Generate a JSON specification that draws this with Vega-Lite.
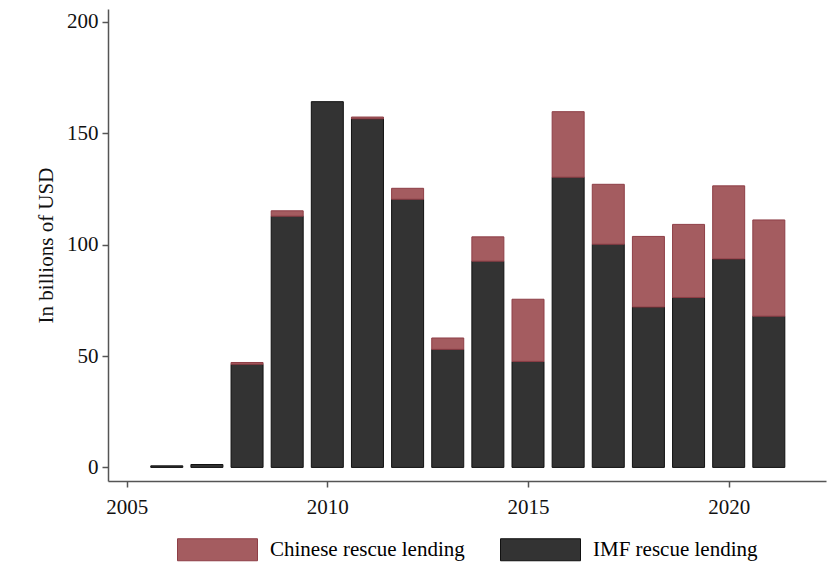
{
  "$schema": "https://vega.github.io/schema/vega-lite/v6.json",
  "width": 718,
  "height": 472,
  "autosize": {"type": "none"},
  "padding": {"left": 108, "top": 9, "right": 14, "bottom": 97},
  "background": "white",
  "config": {
    "font": "Liberation Serif",
    "view": {"stroke": null},
    "legend": {"layout": {"bottom": {"anchor": "middle"}}},
    "axis": {"grid": false, "domainColor": "#555555", "tickColor": "#555555", "labelColor": "#111111", "titleColor": "#111111", "labelFont": "Liberation Serif", "titleFont": "Liberation Serif"}
  },
  "data": {
    "values": [
      {"year": 2006, "series": "IMF rescue lending", "value": 0.7},
      {"year": 2007, "series": "IMF rescue lending", "value": 1.3},
      {"year": 2008, "series": "IMF rescue lending", "value": 46.3},
      {"year": 2008, "series": "Chinese rescue lending", "value": 0.8},
      {"year": 2009, "series": "IMF rescue lending", "value": 112.8},
      {"year": 2009, "series": "Chinese rescue lending", "value": 2.4},
      {"year": 2010, "series": "IMF rescue lending", "value": 164.2},
      {"year": 2011, "series": "IMF rescue lending", "value": 156.5},
      {"year": 2011, "series": "Chinese rescue lending", "value": 0.8},
      {"year": 2012, "series": "IMF rescue lending", "value": 120.4},
      {"year": 2012, "series": "Chinese rescue lending", "value": 4.9},
      {"year": 2013, "series": "IMF rescue lending", "value": 53.0},
      {"year": 2013, "series": "Chinese rescue lending", "value": 5.1},
      {"year": 2014, "series": "IMF rescue lending", "value": 92.6},
      {"year": 2014, "series": "Chinese rescue lending", "value": 10.9},
      {"year": 2015, "series": "IMF rescue lending", "value": 47.6},
      {"year": 2015, "series": "Chinese rescue lending", "value": 27.9},
      {"year": 2016, "series": "IMF rescue lending", "value": 130.3},
      {"year": 2016, "series": "Chinese rescue lending", "value": 29.4},
      {"year": 2017, "series": "IMF rescue lending", "value": 100.2},
      {"year": 2017, "series": "Chinese rescue lending", "value": 26.9},
      {"year": 2018, "series": "IMF rescue lending", "value": 72.0},
      {"year": 2018, "series": "Chinese rescue lending", "value": 31.7},
      {"year": 2019, "series": "IMF rescue lending", "value": 76.3},
      {"year": 2019, "series": "Chinese rescue lending", "value": 32.8},
      {"year": 2020, "series": "IMF rescue lending", "value": 93.6},
      {"year": 2020, "series": "Chinese rescue lending", "value": 32.8},
      {"year": 2021, "series": "IMF rescue lending", "value": 67.9},
      {"year": 2021, "series": "Chinese rescue lending", "value": 43.2}
    ]
  },
  "mark": {"type": "bar", "width": 32, "strokeWidth": 1},
  "encoding": {
    "x": {
      "field": "year", "type": "quantitative",
      "scale": {"domain": [2004.66, 2022.3], "nice": false, "zero": false},
      "axis": {"values": [2005, 2010, 2015, 2020], "format": "d", "title": null, "labelFontSize": 21, "tickSize": 6, "labelPadding": 9, "domainWidth": 1.5, "tickWidth": 1.5}
    },
    "y": {
      "field": "value", "type": "quantitative", "stack": "zero",
      "scale": {"domain": [-6.1, 205.8], "nice": false, "zero": false},
      "axis": {"values": [0, 50, 100, 150, 200], "title": "In billions of USD", "titleFontSize": 21, "titleFontWeight": "normal", "titlePadding": 10, "labelFontSize": 21, "tickSize": 6, "labelPadding": 4, "domainWidth": 1.5, "tickWidth": 1.5}
    },
    "fill": {
      "field": "series", "type": "nominal",
      "scale": {"domain": ["Chinese rescue lending", "IMF rescue lending"], "range": ["#a45c60", "#333333"]},
      "legend": {"orient": "bottom", "direction": "horizontal", "title": null, "labelFontSize": 21, "labelLimit": 400, "symbolType": "M-1,-0.275H1V0.275H-1Z", "symbolSize": 6400, "symbolStrokeWidth": 1, "labelOffset": 12, "columnPadding": 33, "offset": -8}
    },
    "stroke": {
      "field": "series", "type": "nominal",
      "scale": {"domain": ["Chinese rescue lending", "IMF rescue lending"], "range": ["#8e3e46", "#111111"]},
      "legend": {"orient": "bottom", "direction": "horizontal", "title": null, "labelFontSize": 21, "labelLimit": 400, "symbolType": "M-1,-0.275H1V0.275H-1Z", "symbolSize": 6400, "symbolStrokeWidth": 1, "labelOffset": 12, "columnPadding": 33, "offset": -8}
    },
    "order": {"field": "series", "sort": "descending"}
  }
}
